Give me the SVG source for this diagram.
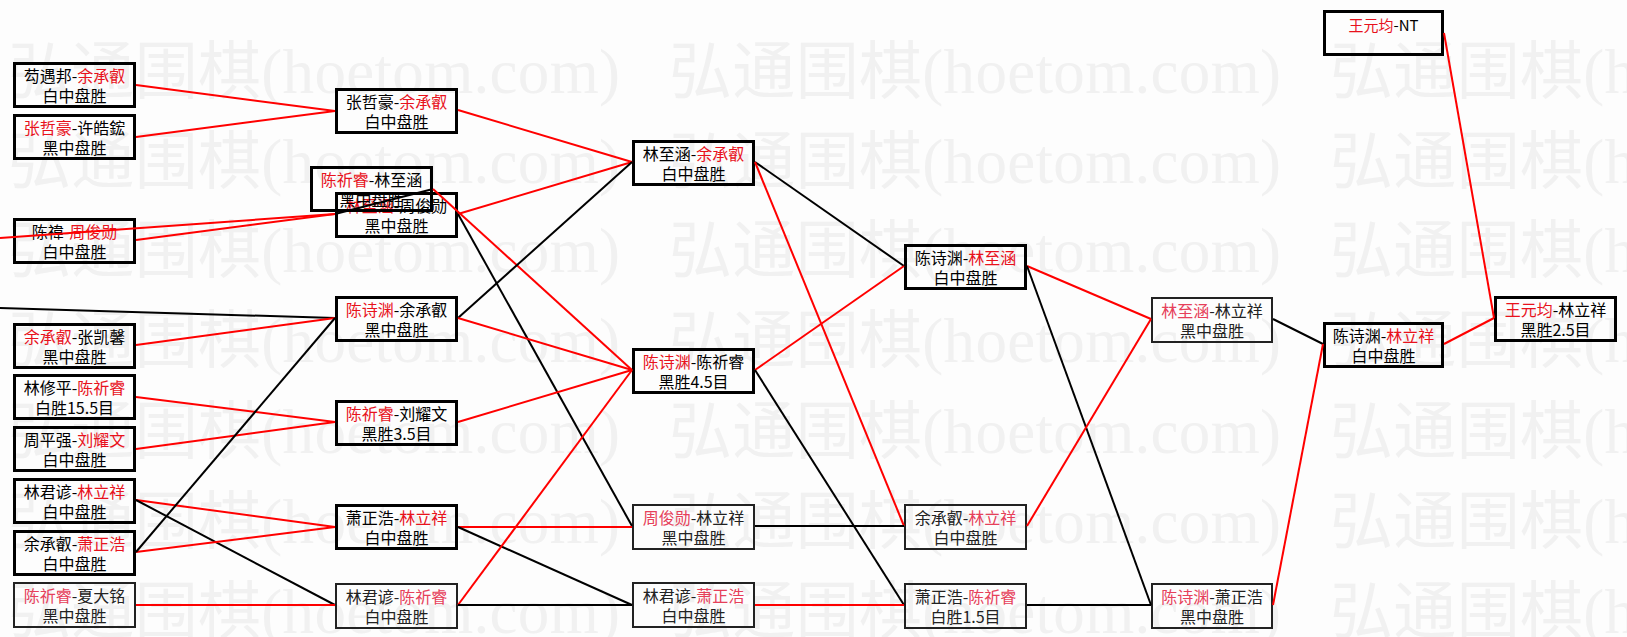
<svg xmlns="http://www.w3.org/2000/svg" xmlns:xlink="http://www.w3.org/1999/xlink" width="1627" height="637" viewBox="0 0 1627 637">
<style>
.wm{font-family:"Liberation Serif","Noto Sans CJK SC",serif;font-size:63px;fill:#f1f1f1}
.t{font-family:"Noto Sans CJK SC",sans-serif;font-size:16px;text-anchor:middle;fill:#000}
.r{fill:#e8121c}
.thin .t{fill:#222}
.thin .r{fill:#e6405a}
.bx{fill:none;stroke:#000;stroke-width:3}
.thin .bx{stroke:#222;stroke-width:2}
.cr{stroke:#f00;stroke-width:2;fill:none}
.cb{stroke:#000;stroke-width:2;fill:none}
</style>
<defs>
<g id="wmrow">
<text class="wm" x="8" textLength="612">弘通围棋(hoetom.com)</text>
<text class="wm" x="669" textLength="612">弘通围棋(hoetom.com)</text>
<text class="wm" x="1330" textLength="612">弘通围棋(hoetom.com)</text>
</g>
</defs>
<rect x="0" y="0" width="1627" height="637" fill="#fdfdfd"/>
<g id="watermark">
<use xlink:href="#wmrow" y="93"/>
<use xlink:href="#wmrow" y="183"/>
<use xlink:href="#wmrow" y="272"/>
<use xlink:href="#wmrow" y="362"/>
<use xlink:href="#wmrow" y="453"/>
<use xlink:href="#wmrow" y="543"/>
<use xlink:href="#wmrow" y="633"/>
</g>

<g id="nodes">
<!-- column 0 -->
<g id="n0a"><rect class="bx" x="14.5" y="63.5" width="120" height="43"/><text class="t" x="74.5" y="82">芶遇邦-<tspan class="r">余承叡</tspan></text><text class="t" x="74.5" y="102">白中盘胜</text></g>
<g id="n0b"><rect class="bx" x="14.5" y="115.5" width="120" height="43"/><text class="t" x="74.5" y="134"><tspan class="r">张哲豪</tspan>-许皓鋐</text><text class="t" x="74.5" y="154">黑中盘胜</text></g>
<g id="n0c"><rect class="bx" x="14.5" y="219.5" width="120" height="43"/><text class="t" x="74.5" y="238">陈禕-<tspan class="r">周俊勋</tspan></text><text class="t" x="74.5" y="258">白中盘胜</text></g>
<g id="n0d"><rect class="bx" x="14.5" y="324.5" width="120" height="43"/><text class="t" x="74.5" y="343"><tspan class="r">余承叡</tspan>-张凯馨</text><text class="t" x="74.5" y="363">黑中盘胜</text></g>
<g id="n0e"><rect class="bx" x="14.5" y="375.5" width="120" height="43"/><text class="t" x="74.5" y="394">林修平-<tspan class="r">陈祈睿</tspan></text><text class="t" x="74.5" y="414">白胜15.5目</text></g>
<g id="n0f"><rect class="bx" x="14.5" y="427.5" width="120" height="43"/><text class="t" x="74.5" y="446">周平强-<tspan class="r">刘耀文</tspan></text><text class="t" x="74.5" y="466">白中盘胜</text></g>
<g id="n0g"><rect class="bx" x="14.5" y="479.5" width="120" height="43"/><text class="t" x="74.5" y="498">林君谚-<tspan class="r">林立祥</tspan></text><text class="t" x="74.5" y="518">白中盘胜</text></g>
<g id="n0h"><rect class="bx" x="14.5" y="531.5" width="120" height="43"/><text class="t" x="74.5" y="550">余承叡-<tspan class="r">萧正浩</tspan></text><text class="t" x="74.5" y="570">白中盘胜</text></g>
<g id="n0i" class="thin"><rect class="bx" x="14" y="583" width="121" height="44"/><text class="t" x="74.5" y="602"><tspan class="r">陈祈睿</tspan>-夏大铭</text><text class="t" x="74.5" y="622">黑中盘胜</text></g>

<!-- column 1 -->
<g id="n1a"><rect class="bx" x="336.5" y="89.5" width="120" height="43"/><text class="t" x="396.5" y="108">张哲豪-<tspan class="r">余承叡</tspan></text><text class="t" x="396.5" y="128">白中盘胜</text></g>
<g id="n1c"><rect class="bx" x="336.5" y="193.5" width="120" height="43"/><text class="t" x="396.5" y="212"><tspan class="r">林至涵</tspan>-周俊勋</text><text class="t" x="396.5" y="232">黑中盘胜</text></g>
<g id="n1b"><rect class="bx" x="311.5" y="167.5" width="120" height="43"/><text class="t" x="371.5" y="186"><tspan class="r">陈祈睿</tspan>-林至涵</text><text class="t" x="371.5" y="206">黑中盘胜</text></g>
<g id="n1d"><rect class="bx" x="336.5" y="297.5" width="120" height="43"/><text class="t" x="396.5" y="316"><tspan class="r">陈诗渊</tspan>-余承叡</text><text class="t" x="396.5" y="336">黑中盘胜</text></g>
<g id="n1e"><rect class="bx" x="336.5" y="401.5" width="120" height="43"/><text class="t" x="396.5" y="420"><tspan class="r">陈祈睿</tspan>-刘耀文</text><text class="t" x="396.5" y="440">黑胜3.5目</text></g>
<g id="n1f"><rect class="bx" x="336.5" y="505.5" width="120" height="43"/><text class="t" x="396.5" y="524">萧正浩-<tspan class="r">林立祥</tspan></text><text class="t" x="396.5" y="544">白中盘胜</text></g>
<g id="n1g" class="thin"><rect class="bx" x="336" y="584" width="121" height="44"/><text class="t" x="396.5" y="603">林君谚-<tspan class="r">陈祈睿</tspan></text><text class="t" x="396.5" y="623">白中盘胜</text></g>

<!-- column 2 -->
<g id="n2a"><rect class="bx" x="633.5" y="141.5" width="120" height="43"/><text class="t" x="693.5" y="160">林至涵-<tspan class="r">余承叡</tspan></text><text class="t" x="693.5" y="180">白中盘胜</text></g>
<g id="n2b"><rect class="bx" x="633.5" y="349.5" width="120" height="43"/><text class="t" x="693.5" y="368"><tspan class="r">陈诗渊</tspan>-陈祈睿</text><text class="t" x="693.5" y="388">黑胜4.5目</text></g>
<g id="n2c" class="thin"><rect class="bx" x="633" y="505" width="121" height="44"/><text class="t" x="693.5" y="524"><tspan class="r">周俊勋</tspan>-林立祥</text><text class="t" x="693.5" y="544">黑中盘胜</text></g>
<g id="n2d" class="thin"><rect class="bx" x="633" y="583" width="121" height="44"/><text class="t" x="693.5" y="602">林君谚-<tspan class="r">萧正浩</tspan></text><text class="t" x="693.5" y="622">白中盘胜</text></g>

<!-- column 3 -->
<g id="n3a"><rect class="bx" x="905.5" y="245.5" width="120" height="43"/><text class="t" x="965.5" y="264">陈诗渊-<tspan class="r">林至涵</tspan></text><text class="t" x="965.5" y="284">白中盘胜</text></g>
<g id="n3b" class="thin"><rect class="bx" x="905" y="505" width="121" height="44"/><text class="t" x="965.5" y="524">余承叡-<tspan class="r">林立祥</tspan></text><text class="t" x="965.5" y="544">白中盘胜</text></g>
<g id="n3c" class="thin"><rect class="bx" x="905" y="584" width="121" height="44"/><text class="t" x="965.5" y="603">萧正浩-<tspan class="r">陈祈睿</tspan></text><text class="t" x="965.5" y="623">白胜1.5目</text></g>

<!-- column 4 -->
<g id="n4a" class="thin"><rect class="bx" x="1152" y="298" width="120" height="44"/><text class="t" x="1212" y="317"><tspan class="r">林至涵</tspan>-林立祥</text><text class="t" x="1212" y="337">黑中盘胜</text></g>
<g id="n4b" class="thin"><rect class="bx" x="1152" y="584" width="120" height="44"/><text class="t" x="1212" y="603"><tspan class="r">陈诗渊</tspan>-萧正浩</text><text class="t" x="1212" y="623">黑中盘胜</text></g>

<!-- column 5 -->
<g id="n5a"><rect class="bx" x="1324.5" y="11.5" width="118" height="43"/><text class="t" x="1383.5" y="31" style="font-size:15px"><tspan class="r">王元均</tspan>-NT</text></g>
<g id="n5b"><rect class="bx" x="1324.5" y="323.5" width="118" height="43"/><text class="t" x="1383.5" y="342">陈诗渊-<tspan class="r">林立祥</tspan></text><text class="t" x="1383.5" y="362">白中盘胜</text></g>

<!-- column 6 -->
<g id="n6a"><rect class="bx" x="1495.5" y="297.5" width="120" height="43"/><text class="t" x="1555.5" y="316"><tspan class="r">王元均</tspan>-林立祥</text><text class="t" x="1555.5" y="336">黑胜2.5目</text></g>
</g>

<g id="connectors">
<line class="cr" x1="136" y1="85" x2="335" y2="111"/>
<line class="cr" x1="136" y1="137" x2="335" y2="111"/>
<line class="cr" x1="136" y1="240" x2="335" y2="214"/>
<line class="cr" x1="0" y1="238" x2="335" y2="214"/>
<line class="cb" x1="335" y1="214" x2="433" y2="189"/>
<line class="cb" x1="0" y1="308" x2="335" y2="318"/>
<line class="cr" x1="136" y1="345" x2="335" y2="318"/>
<line class="cr" x1="136" y1="397" x2="335" y2="422"/>
<line class="cr" x1="136" y1="449" x2="335" y2="422"/>
<line class="cr" x1="136" y1="500" x2="335" y2="527"/>
<line class="cb" x1="136" y1="500" x2="335" y2="605"/>
<line class="cr" x1="136" y1="552" x2="335" y2="527"/>
<line class="cb" x1="136" y1="552" x2="335" y2="318"/>
<line class="cr" x1="136" y1="605" x2="335" y2="605"/>
<line class="cr" x1="458" y1="110" x2="632" y2="162"/>
<line class="cr" x1="458" y1="214" x2="632" y2="162"/>
<line class="cb" x1="458" y1="214" x2="632" y2="526"/>
<line class="cr" x1="433" y1="189" x2="632" y2="370"/>
<line class="cb" x1="458" y1="318" x2="632" y2="162"/>
<line class="cr" x1="458" y1="318" x2="632" y2="370"/>
<line class="cr" x1="458" y1="422" x2="632" y2="370"/>
<line class="cr" x1="458" y1="527" x2="632" y2="527"/>
<line class="cb" x1="458" y1="527" x2="632" y2="605"/>
<line class="cr" x1="458" y1="605" x2="632" y2="370"/>
<line class="cb" x1="458" y1="605" x2="632" y2="605"/>
<line class="cb" x1="755" y1="162" x2="904" y2="266"/>
<line class="cr" x1="755" y1="162" x2="904" y2="526"/>
<line class="cr" x1="755" y1="370" x2="904" y2="266"/>
<line class="cb" x1="755" y1="370" x2="904" y2="605"/>
<line class="cb" x1="755" y1="526" x2="904" y2="526"/>
<line class="cr" x1="755" y1="605" x2="904" y2="605"/>
<line class="cr" x1="1027" y1="266" x2="1151" y2="319"/>
<line class="cb" x1="1027" y1="266" x2="1151" y2="605"/>
<line class="cr" x1="1027" y1="526" x2="1151" y2="319"/>
<line class="cb" x1="1027" y1="605" x2="1151" y2="605"/>
<line class="cb" x1="1273" y1="319" x2="1323" y2="344"/>
<line class="cr" x1="1273" y1="605" x2="1323" y2="344"/>
<line class="cr" x1="1444" y1="344" x2="1494" y2="318"/>
<line class="cr" x1="1444" y1="33" x2="1494" y2="318"/>
</g>
</svg>
